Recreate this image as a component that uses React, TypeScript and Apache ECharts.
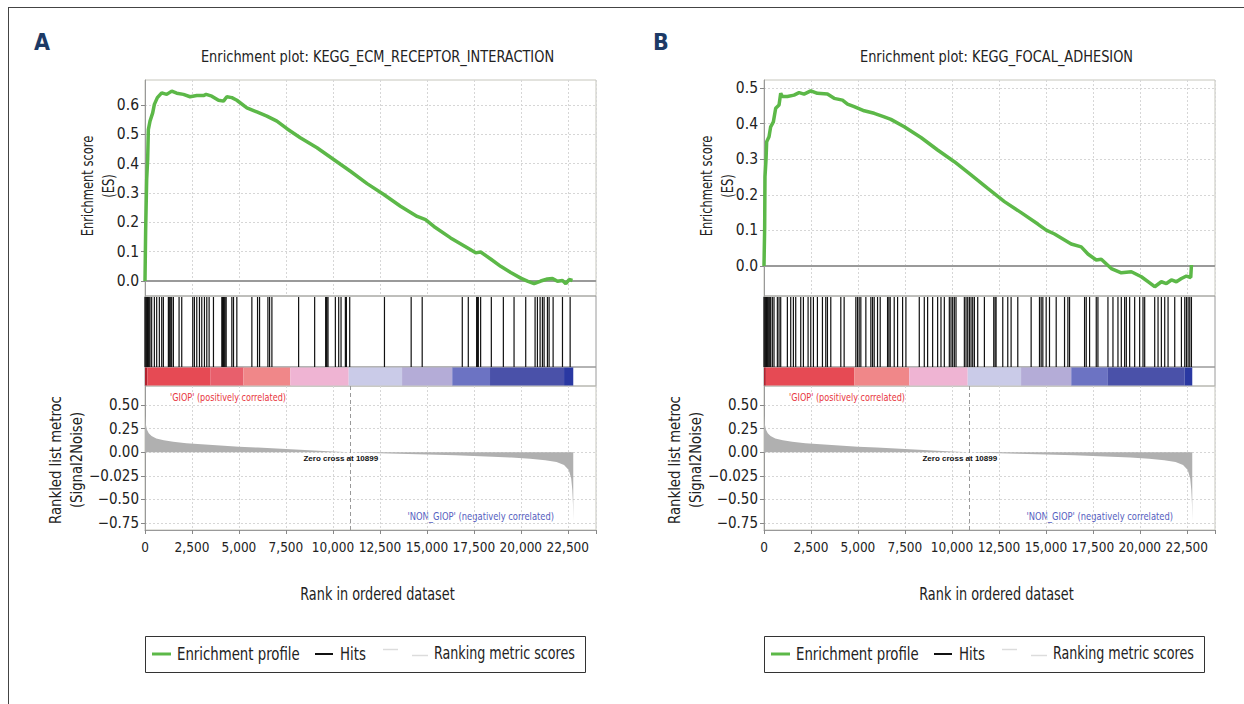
import React, { useEffect, useRef } from "react";
import * as echarts from "echarts";

// ---------------- DATA ----------------
const rankMax = 24000;
const rankStep = 2500;
const esTicksA = [0, 0.1, 0.2, 0.3, 0.4, 0.5, 0.6];
const esTicksB = [0, 0.1, 0.2, 0.3, 0.4, 0.5];
const metricTicks = [0.5, 0.25, 0, -0.25, -0.5, -0.75];
const metricTickLabels = ["0.50", "0.25", "0.00", "\u22120.025", "\u22120.50", "\u22120.75"];

const titleA = "Enrichment plot: KEGG_ECM_RECEPTOR_INTERACTION";
const titleB = "Enrichment plot: KEGG_FOCAL_ADHESION";
const zeroCross = 10899;

const esCurveA: [number, number][] = [
  [0, 0], [35, 0.175], [89, 0.346], [142, 0.414], [178, 0.516], [267, 0.545], [409, 0.573],
  [498, 0.602], [658, 0.625], [889, 0.641], [1155, 0.636], [1422, 0.647], [1688, 0.64],
  [2044, 0.636], [2399, 0.628], [2755, 0.632], [3110, 0.632], [3252, 0.636], [3554, 0.63],
  [3910, 0.616], [4176, 0.613], [4354, 0.628], [4621, 0.625], [4887, 0.616], [5420, 0.59],
  [5953, 0.576], [6486, 0.562], [7019, 0.545], [7553, 0.519], [8264, 0.488], [9152, 0.454],
  [10041, 0.414], [10930, 0.374], [11819, 0.332], [12707, 0.295], [13596, 0.255],
  [14484, 0.22], [14929, 0.209], [15373, 0.186], [16262, 0.147], [17150, 0.113],
  [17595, 0.096], [17861, 0.099], [18394, 0.075], [18927, 0.05], [19461, 0.029],
  [19994, 0.01], [20349, 0.0], [20705, -0.009], [21060, 0.0], [21416, 0.007], [21683, 0.009],
  [21950, -0.001], [22216, 0.002], [22394, -0.009], [22572, 0.005], [22750, 0.002],
];

const esCurveB: [number, number][] = [
  [0, 0], [36, 0.11], [53, 0.251], [107, 0.298], [142, 0.349], [267, 0.363], [355, 0.391],
  [498, 0.405], [622, 0.443], [800, 0.452], [889, 0.485], [977, 0.476], [1244, 0.476],
  [1599, 0.48], [1866, 0.487], [2132, 0.483], [2488, 0.492], [2843, 0.485], [3376, 0.483],
  [3732, 0.471], [4176, 0.466], [4443, 0.455], [4798, 0.448], [5331, 0.436], [5864, 0.429],
  [6397, 0.419], [6753, 0.412], [7463, 0.391], [8352, 0.361], [9240, 0.326], [10129, 0.293],
  [11017, 0.256], [11906, 0.218], [12794, 0.181], [13683, 0.15], [14571, 0.118],
  [15016, 0.101], [15460, 0.09], [16348, 0.062], [16882, 0.054], [17237, 0.034],
  [17681, 0.017], [17948, 0.019], [18481, -0.007], [19014, -0.019], [19547, -0.016],
  [20080, -0.03], [20524, -0.047], [20791, -0.058], [21146, -0.044], [21413, -0.049],
  [21680, -0.039], [21946, -0.044], [22213, -0.035], [22479, -0.028], [22710, -0.032],
  [22746, 0.003],
];

const hitsA = [
  0, 45, 89, 134, 178, 222, 267, 355, 498, 622, 764, 889, 977, 1244, 1290, 1333, 1380, 1422,
  1511, 1813, 1955, 2541, 2630, 2755, 2897, 3021, 3163, 3288, 3412, 3643, 4088, 4130, 4176,
  4220, 4265, 4319, 4621, 4710, 4887, 5687, 5989, 6096, 6540, 6629, 6753, 8175, 9028, 9615,
  9650, 9686, 9739, 10130, 10308, 10432, 10663, 10717, 10894, 12743, 14164, 14751, 16884,
  17204, 17648, 17700, 17737, 17861, 18430, 19070, 19639, 20260, 20758, 20883, 21025, 21149,
  21238, 21416, 21505, 21718, 22216, 22624,
];

const hitsB = [
  0, 45, 89, 134, 178, 222, 267, 311, 355, 444, 533, 711, 800, 889, 1244, 1422, 1564, 1688,
  1955, 2097, 2346, 2488, 2630, 2843, 3110, 3287, 3376, 3554, 4087, 4265, 4887, 4976, 5064,
  5153, 5420, 5686, 5775, 5864, 6042, 6184, 6575, 6646, 6717, 6930, 7108, 7375, 7552, 8263,
  8530, 8707, 8974, 9240, 9418, 9596, 9862, 9951, 10040, 10129, 10218, 10662, 10751, 10840,
  10929, 11017, 11106, 11195, 11373, 11728, 12226, 12297, 12350, 12706, 12972, 13150, 13505,
  14216, 14660, 14749, 14838, 15016, 15193, 15549, 15993, 16171, 16260, 17059, 17148, 17326,
  17681, 17770, 18303, 18570, 18836, 19014, 19192, 19281, 19458, 19725, 19991, 20169, 20258,
  20791, 20969, 21146, 21324, 21502, 21857, 22213, 22390, 22479, 22568, 22657, 22746,
];

// ranking metric (Signal2Noise), shared by both plots
const metricCurve: [number, number][] = [
  [0, 0.39], [40, 0.3], [100, 0.24], [200, 0.2], [350, 0.17], [600, 0.145], [1000, 0.125],
  [1500, 0.11], [2200, 0.095], [3000, 0.083], [4000, 0.07], [5000, 0.058], [6000, 0.048],
  [7000, 0.038], [8000, 0.028], [9000, 0.018], [10000, 0.008], [10899, 0], [12000, -0.008],
  [13500, -0.016], [15000, -0.025], [16500, -0.033], [17500, -0.04], [18500, -0.048],
  [19500, -0.058], [20500, -0.07], [21300, -0.085], [21900, -0.105], [22300, -0.135],
  [22550, -0.19], [22680, -0.28], [22740, -0.4], [22775, -0.55], [22790, -0.73],
];

// colour-band segments of the ranked list: [startRank, endRank, shadeIndex]
const bandsA: [number, number, number][] = [
  [0, 120, 0], [120, 3470, 1], [3470, 5240, 2], [5240, 7730, 3], [7730, 10840, 4],
  [10840, 13680, 5], [13680, 16350, 6], [16350, 18360, 7], [18360, 22300, 8], [22300, 22790, 9],
];
const bandsB: [number, number, number][] = [
  [0, 100, 0], [100, 4800, 1], [4800, 7730, 3], [7730, 10840, 4], [10840, 13680, 5],
  [13680, 16350, 6], [16350, 18300, 7], [18300, 22390, 8], [22390, 22790, 9],
];

// ---------------- STYLE ----------------
const BAND_COLORS = [
  "#b0222f", "#e64a54", "#e85f6c", "#f08789", "#efb4d3", "#cacbe8", "#b4acd7", "#6c73c3",
  "#4a51a9", "#2a38a2",
];
const FONT = "'DejaVu Sans Condensed', 'Liberation Sans', sans-serif";
const SMALLFONT = "'Liberation Sans', Arial, sans-serif";
const GREEN = "#5cb848";
const TXT = "#222";

export default function App() {
  const ref = useRef<HTMLDivElement>(null);

  useEffect(() => {
    if (!ref.current) return;
    const chart = echarts.init(ref.current, null, { renderer: "svg" });

    const grids: any[] = [];
    const xAxes: any[] = [];
    const yAxes: any[] = [];
    const series: any[] = [];
    const graphics: any[] = [];

    graphics.push(
      { type: "line", shape: { x1: 8, y1: 7.5, x2: 1244, y2: 7.5 }, style: { stroke: "#444", lineWidth: 1 } },
      { type: "line", shape: { x1: 8.5, y1: 7, x2: 8.5, y2: 704 }, style: { stroke: "#444", lineWidth: 1 } }
    );

    const panels = [
      { dx: 0, letter: "A", title: titleA, es: esCurveA, esTicks: esTicksA, esMin: -0.051, esMax: 0.685, hits: hitsA, bands: bandsA },
      { dx: 619, letter: "B", title: titleB, es: esCurveB, esTicks: esTicksB, esMin: -0.084, esMax: 0.5225, hits: hitsB, bands: bandsB },
    ];

    const L0 = 145;
    const W = 451;
    const splitStyle = { show: true, lineStyle: { color: "#d6d6d6", type: [2, 2], width: 1 } };
    const rankLabel = (v: number) => (v % rankStep === 0 ? v.toLocaleString("en-US") : "");

    const txt = (x: number, y: number, text: string, size: number, opts: any = {}) => ({
      type: "text", x, y,
      rotation: opts.rotation || 0,
      scaleX: opts.scaleX || 1,
      style: {
        text, fill: opts.fill || TXT,
        font: `${opts.weight || "normal"} ${size}px ${opts.family || FONT}`,
        align: opts.align || "center", verticalAlign: "middle",
      },
    });

    panels.forEach((p) => {
      const L = L0 + p.dx;
      const gi = grids.length;
      grids.push(
        { left: L, top: 80, width: W, height: 216, show: true, borderColor: "#c6c6bc", borderWidth: 1, containLabel: false },
        { left: L, top: 296, width: W, height: 71, show: true, borderColor: "#9a9a9a", borderWidth: 1, containLabel: false },
        { left: L, top: 367, width: W, height: 19, show: true, borderColor: "#9a9a9a", borderWidth: 1, containLabel: false },
        { left: L, top: 386, width: W, height: 144, show: true, borderColor: "#c6c6bc", borderWidth: 1, containLabel: false }
      );
      const baseX = { type: "value", min: 0, max: rankMax, interval: rankStep };
      xAxes.push(
        { ...baseX, gridIndex: gi, axisLabel: { show: false }, axisTick: { show: false }, axisLine: { show: false }, splitLine: splitStyle },
        { ...baseX, gridIndex: gi + 1, axisLabel: { show: false }, axisTick: { show: false }, axisLine: { show: false }, splitLine: { show: false } },
        { ...baseX, gridIndex: gi + 2, axisLabel: { show: false }, axisTick: { show: false }, axisLine: { show: false }, splitLine: { show: false } },
        {
          ...baseX, gridIndex: gi + 3,
          axisLabel: { show: true, formatter: rankLabel, color: TXT, fontSize: 13.5, fontFamily: FONT, margin: 10 },
          axisTick: { show: true, length: 4, lineStyle: { color: "#888" } },
          axisLine: { show: true, onZero: false, lineStyle: { color: "#999" } },
          splitLine: splitStyle,
        }
      );
      yAxes.push(
        {
          type: "value", gridIndex: gi, min: p.esMin, max: p.esMax,
          axisLabel: { show: true, customValues: p.esTicks, formatter: (v: number) => v.toFixed(1), color: TXT, fontSize: 15.5, fontFamily: FONT, margin: 6 },
          axisTick: { show: true, customValues: p.esTicks, length: 4, lineStyle: { color: "#888" } },
          axisLine: { show: true, onZero: false, lineStyle: { color: "#999" } },
          splitLine: splitStyle,
        },
        { type: "value", gridIndex: gi + 1, min: 0, max: 1, show: false, splitLine: { show: false } },
        { type: "value", gridIndex: gi + 2, min: 0, max: 1, show: false, splitLine: { show: false } },
        {
          type: "value", gridIndex: gi + 3, min: -0.824, max: 0.7,
          axisLabel: {
            show: true, customValues: metricTicks, color: TXT, fontSize: 15, fontFamily: FONT, margin: 6,
            formatter: (v: number) => {
              const i = metricTicks.findIndex((t) => Math.abs(t - v) < 1e-6);
              return i >= 0 ? metricTickLabels[i] : "";
            },
          },
          axisTick: { show: true, customValues: metricTicks, length: 4, lineStyle: { color: "#888" } },
          axisLine: { show: true, onZero: false, lineStyle: { color: "#999" } },
          splitLine: splitStyle,
        }
      );

      series.push({
        type: "line", xAxisIndex: gi, yAxisIndex: gi, data: p.es, showSymbol: false, z: 5,
        lineStyle: { color: GREEN, width: 3.5 }, itemStyle: { color: GREEN },
        markLine: {
          silent: true, symbol: "none", label: { show: false },
          lineStyle: { color: "#9a9a9a", width: 2, type: "solid" },
          data: [{ yAxis: 0 }],
        },
      });
      series.push({
        type: "custom", xAxisIndex: gi + 1, yAxisIndex: gi + 1,
        data: p.hits.map((h) => [h, 0]),
        renderItem: (_params: any, api: any) => {
          const x = api.value(0);
          const a = api.coord([x, 1]);
          const b = api.coord([x, 0]);
          return { type: "line", shape: { x1: a[0], y1: a[1] + 1, x2: b[0], y2: b[1] }, style: { stroke: "#111", lineWidth: 1.2 } };
        },
      });
      series.push({
        type: "custom", xAxisIndex: gi + 2, yAxisIndex: gi + 2,
        data: p.bands,
        encode: { x: [0, 1] },
        renderItem: (_params: any, api: any) => {
          const s = api.value(0), e = api.value(1), c = api.value(2);
          const a = api.coord([s, 1]);
          const b = api.coord([e, 0]);
          return { type: "rect", shape: { x: a[0], y: a[1] + 0.5, width: b[0] - a[0], height: b[1] - a[1] - 1 }, style: { fill: BAND_COLORS[c] } };
        },
      });
      series.push({
        type: "line", xAxisIndex: gi + 3, yAxisIndex: gi + 3, data: metricCurve, showSymbol: false,
        lineStyle: { width: 0, color: "#b0b0b0" }, areaStyle: { color: "#b0b0b0", opacity: 1 },
        markLine: {
          silent: true, symbol: "none", label: { show: false },
          lineStyle: { color: "#999", width: 1, type: [4, 3] },
          data: [{ xAxis: zeroCross }],
        },
        markPoint: {
          silent: true, symbol: "circle", symbolSize: 0,
          data: [{ coord: [zeroCross, 0] }],
          label: {
            show: true, position: "inside", offset: [-9, 6], formatter: "Zero cross at " + zeroCross,
            color: "#111", fontSize: 8, fontFamily: SMALLFONT, fontWeight: "bold",
          },
        },
      });

      const cx = L + W / 2 + 7;
      graphics.push(
        txt(42 + p.dx, 42, p.letter, 23, { fill: "#1d3a66", weight: "bold" }),
        txt(cx, 57, p.title, 16, { scaleX: 0.9 }),
        txt(87 + p.dx, 186, "Enrichment score", 16, { rotation: Math.PI / 2, scaleX: 0.8 }),
        txt(108 + p.dx, 186, "(ES)", 16, { rotation: Math.PI / 2, scaleX: 0.8 }),
        txt(56 + p.dx, 460, "Rankled list metroc", 16, { rotation: Math.PI / 2, scaleX: 0.92 }),
        txt(77 + p.dx, 460, "(Signal2Noise)", 16, { rotation: Math.PI / 2, scaleX: 0.92 }),
        txt(cx, 594, "Rank in ordered dataset", 17, { scaleX: 0.84 }),
        txt(L + 25, 397, "'GIOP' (positively correlated)", 11, { align: "left", fill: "#e8353d", scaleX: 0.82 }),
        txt(L + 409, 516, "'NON_GIOP' (negatively correlated)", 11, { align: "right", fill: "#5560c0", scaleX: 0.845 }),
        // legend
        { type: "rect", shape: { x: L + 0.5, y: 636.5, width: 440, height: 36 }, style: { fill: "#fff", stroke: "#333", lineWidth: 1 } },
        { type: "line", shape: { x1: L + 7, y1: 654, x2: L + 26, y2: 654 }, style: { stroke: GREEN, lineWidth: 3 } },
        txt(L + 32, 654, "Enrichment profile", 17, { align: "left", scaleX: 0.87 }),
        { type: "line", shape: { x1: L + 170, y1: 654, x2: L + 188, y2: 654 }, style: { stroke: "#111", lineWidth: 2 } },
        txt(L + 195, 654, "Hits", 17, { align: "left", scaleX: 0.87 }),
        { type: "line", shape: { x1: L + 238, y1: 649.5, x2: L + 253, y2: 649.5 }, style: { stroke: "#dcdcdc", lineWidth: 1.5 } },
        { type: "line", shape: { x1: L + 267, y1: 655.5, x2: L + 283, y2: 655.5 }, style: { stroke: "#dcdcdc", lineWidth: 1.5 } },
        txt(L + 289, 654, "Ranking metric scores", 17, { align: "left", scaleX: 0.83 })
      );
    });

    chart.setOption({
      animation: false,
      backgroundColor: "#ffffff",
      textStyle: { fontFamily: FONT },
      grid: grids,
      xAxis: xAxes,
      yAxis: yAxes,
      series,
      graphic: { elements: graphics },
    });

    return () => chart.dispose();
  }, []);

  return <div ref={ref} style={{ position: "fixed", left: 0, top: 0, width: 1244, height: 704, background: "#fff" }} />;
}
